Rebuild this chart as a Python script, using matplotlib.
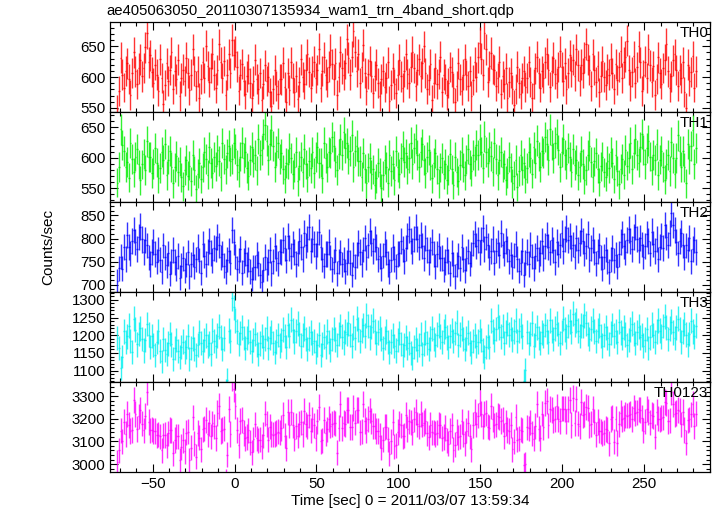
import numpy as np
import matplotlib
matplotlib.use("Agg")
import matplotlib.pyplot as plt
from matplotlib.ticker import MultipleLocator

plt.rcParams['font.family'] = ['Liberation Sans', 'DejaVu Sans']

# 1 s bins, first bin centred at -71.5 s
t_start, t_bin = -71.5, 1.0

th0 = [548, 577, 631, 604, 583, 610, 622, 597, 571, 606, 640, 609, 589, 614, 628, 601, 615, 648, 672, 624,
       635, 608, 591, 620, 604, 577, 629, 598, 556, 587, 622, 593, 611, 640, 581, 610, 597, 628, 569, 598,
       612, 594, 631, 606, 579, 604, 645, 610, 586, 609, 566, 597, 624, 598, 651, 618, 592, 615, 638, 603,
       582, 611, 653, 624, 599, 626, 571, 604, 637, 607, 660, 636, 641, 617, 578, 604, 621, 594, 572, 601,
       613, 590, 566, 593, 628, 597, 581, 606, 562, 589, 619, 594, 600, 575, 553, 580, 611, 586, 572, 597,
       596, 623, 584, 559, 607, 579, 624, 598, 575, 601, 564, 592, 629, 600, 588, 612, 637, 608, 583, 610,
       625, 598, 611, 646, 583, 610, 632, 604, 592, 617, 644, 621, 596, 622, 571, 600, 641, 614, 603, 622,
       661, 631, 604, 633, 674, 641, 609, 637, 591, 616, 652, 607, 578, 605, 626, 601, 574, 602, 620, 590,
       569, 597, 610, 584, 598, 624, 561, 587, 615, 589, 574, 603, 628, 601, 583, 609, 637, 605, 590, 616,
       641, 615, 586, 612, 629, 601, 622, 650, 607, 581, 595, 621, 563, 591, 614, 589, 605, 633, 576, 604,
       597, 571, 590, 616, 608, 582, 559, 585, 622, 596, 578, 604, 629, 603, 586, 610, 569, 595, 624, 600,
       632, 656, 630, 604, 671, 645, 592, 618, 639, 613, 611, 585, 599, 625, 573, 601, 588, 614, 566, 592,
       606, 580, 555, 581, 617, 591, 572, 598, 610, 584, 599, 625, 592, 566, 588, 614, 633, 607, 583, 609,
       598, 624, 638, 612, 584, 610, 631, 605, 590, 616, 642, 616, 594, 622, 580, 606, 635, 609, 628, 602,
       645, 619, 594, 620, 606, 632, 654, 628, 611, 585, 637, 611, 592, 618, 575, 601, 626, 600, 587, 613,
       604, 630, 607, 581, 621, 595, 616, 642, 598, 624, 633, 659, 611, 585, 608, 634, 590, 616, 650, 624,
       577, 603, 625, 599, 645, 619, 592, 618, 571, 597, 632, 606, 589, 615, 628, 654, 609, 583, 601, 627,
       637, 611, 585, 611, 598, 624, 576, 550, 620, 594, 608, 634, 583, 609]

th1 = [559, 585, 647, 621, 611, 585, 593, 567, 624, 598, 576, 602, 615, 589, 563, 589, 606, 580, 627, 601,
       601, 575, 590, 616, 592, 566, 583, 609, 597, 623, 571, 597, 611, 585, 558, 584, 603, 577, 594, 568,
       553, 579, 596, 570, 587, 561, 605, 579, 548, 574, 591, 565, 584, 610, 598, 572, 617, 591, 575, 601,
       586, 612, 595, 569, 624, 598, 581, 607, 620, 594, 598, 624, 614, 588, 576, 602, 625, 599, 609, 583,
       570, 596, 618, 592, 605, 579, 631, 605, 613, 639, 654, 628, 596, 622, 645, 619, 585, 611, 624, 598,
       607, 581, 565, 591, 590, 616, 599, 573, 584, 610, 561, 587, 602, 576, 615, 589, 568, 594, 583, 609,
       575, 601, 617, 591, 592, 566, 625, 599, 584, 610, 608, 634, 619, 593, 580, 606, 630, 604, 642, 616,
       624, 598, 611, 637, 585, 611, 620, 594, 595, 569, 608, 582, 558, 584, 599, 573, 581, 555, 566, 592,
       576, 550, 571, 597, 585, 559, 604, 578, 589, 563, 611, 585, 574, 600, 619, 593, 607, 581, 599, 625,
       590, 616, 631, 605, 584, 610, 622, 596, 575, 601, 613, 587, 566, 592, 607, 581, 558, 584, 599, 573,
       590, 564, 580, 606, 581, 555, 602, 576, 562, 588, 610, 584, 571, 597, 615, 589, 578, 604, 595, 621,
       604, 630, 609, 583, 635, 609, 592, 618, 603, 577, 624, 598, 571, 597, 610, 584, 589, 563, 575, 601,
       584, 558, 570, 596, 552, 578, 605, 579, 591, 565, 583, 609, 600, 574, 617, 591, 628, 602, 585, 611,
       608, 634, 622, 596, 647, 621, 599, 625, 639, 613, 584, 610, 631, 605, 590, 616, 602, 576, 614, 588,
       597, 571, 585, 611, 590, 564, 579, 605, 619, 593, 568, 594, 608, 582, 560, 586, 602, 576, 569, 595,
       583, 609, 591, 565, 604, 578, 556, 582, 598, 572, 613, 587, 599, 625, 581, 607, 631, 605, 592, 618,
       639, 613, 590, 616, 628, 602, 579, 605, 596, 622, 571, 597, 611, 585, 564, 590, 604, 578, 626, 600,
       574, 600, 637, 611, 585, 611, 584, 558, 623, 597, 619, 645, 590, 616]

th2 = [708, 736, 761, 735, 782, 756, 808, 782, 768, 794, 819, 793, 777, 803, 826, 798, 771, 797, 785, 759,
       745, 771, 792, 766, 750, 776, 754, 728, 785, 759, 742, 768, 724, 750, 775, 749, 736, 762, 715, 741,
       757, 731, 744, 770, 718, 744, 765, 739, 755, 781, 752, 726, 789, 763, 745, 771, 795, 769, 753, 779,
       778, 804, 785, 759, 767, 741, 728, 754, 774, 748, 818, 792, 761, 735, 752, 778, 726, 752, 769, 743,
       755, 729, 712, 738, 738, 764, 746, 720, 706, 732, 760, 734, 749, 775, 725, 751, 784, 758, 746, 772,
       771, 797, 779, 753, 805, 779, 762, 788, 771, 745, 768, 794, 782, 756, 811, 785, 799, 825, 774, 800,
       788, 762, 788, 814, 781, 755, 741, 767, 766, 792, 759, 733, 750, 776, 725, 751, 770, 744, 755, 729,
       748, 774, 748, 722, 765, 739, 764, 790, 771, 745, 776, 802, 759, 785, 817, 791, 773, 799, 781, 755,
       762, 736, 763, 789, 771, 745, 728, 754, 782, 756, 740, 766, 768, 794, 777, 751, 779, 805, 820, 794,
       773, 799, 825, 799, 781, 807, 784, 758, 801, 775, 749, 775, 792, 766, 740, 766, 783, 757, 758, 732,
       749, 775, 751, 725, 769, 743, 718, 744, 762, 736, 781, 755, 731, 757, 772, 746, 765, 791, 810, 784,
       796, 770, 796, 822, 778, 804, 785, 759, 773, 799, 748, 774, 790, 764, 811, 785, 768, 794, 777, 751,
       765, 739, 763, 789, 756, 730, 748, 774, 722, 748, 771, 745, 787, 761, 736, 762, 780, 754, 769, 795,
       758, 784, 808, 782, 770, 796, 775, 749, 792, 766, 785, 811, 773, 799, 822, 796, 805, 779, 787, 761,
       801, 775, 790, 816, 794, 768, 783, 809, 754, 780, 797, 771, 746, 772, 785, 759, 735, 761, 776, 750,
       728, 754, 779, 753, 765, 739, 766, 792, 809, 783, 770, 796, 820, 794, 778, 804, 825, 799, 775, 801,
       787, 761, 784, 810, 794, 768, 815, 789, 773, 799, 755, 781, 806, 780, 829, 803, 786, 812, 855, 829,
       818, 792, 768, 794, 811, 785, 759, 785, 776, 802, 751, 777, 797, 771]

th3 = [1193, 1163, 1108, 1140, 1211, 1181, 1197, 1227, 1183, 1153, 1246, 1216, 1174, 1204, 1220, 1190, 1157, 1187, 1232, 1202,
       1168, 1198, 1173, 1143, 1181, 1211, 1156, 1126, 1189, 1159, 1147, 1177, 1204, 1174, 1133, 1163, 1186, 1156, 1138, 1168,
       1182, 1152, 1167, 1197, 1134, 1164, 1191, 1161, 1143, 1173, 1208, 1178, 1156, 1186, 1200, 1170, 1177, 1147, 1213, 1183,
       1169, 1199, 1224, 1194, 1161, 1191, 1045, 1075, 1213, 1183, 1305, 1279, 1241, 1211, 1176, 1206, 1222, 1192, 1163, 1193,
       1211, 1181, 1156, 1186, 1204, 1174, 1147, 1177, 1198, 1168, 1190, 1220, 1163, 1193, 1209, 1179, 1152, 1182, 1201, 1171,
       1186, 1216, 1198, 1168, 1229, 1199, 1244, 1214, 1182, 1212, 1233, 1203, 1171, 1201, 1219, 1189, 1161, 1191, 1208, 1178,
       1183, 1153, 1172, 1202, 1144, 1174, 1196, 1166, 1211, 1181, 1159, 1189, 1218, 1188, 1173, 1203, 1226, 1196, 1180, 1210,
       1204, 1234, 1201, 1171, 1222, 1192, 1247, 1217, 1183, 1213, 1229, 1199, 1256, 1226, 1194, 1224, 1241, 1211, 1178, 1208,
       1219, 1189, 1163, 1193, 1211, 1181, 1152, 1182, 1200, 1170, 1157, 1187, 1206, 1176, 1143, 1173, 1194, 1164, 1179, 1149,
       1137, 1167, 1189, 1159, 1173, 1203, 1146, 1176, 1208, 1178, 1161, 1191, 1219, 1189, 1172, 1202, 1227, 1197, 1181, 1211,
       1224, 1194, 1168, 1198, 1213, 1183, 1206, 1236, 1172, 1202, 1219, 1189, 1161, 1191, 1207, 1177, 1153, 1183, 1200, 1170,
       1182, 1212, 1187, 1157, 1138, 1168, 1196, 1166, 1241, 1211, 1188, 1218, 1253, 1223, 1196, 1226, 1179, 1209, 1232, 1202,
       1218, 1188, 1211, 1241, 1183, 1213, 1227, 1197, 1072, 1102, 1209, 1179, 1204, 1234, 1171, 1201, 1223, 1193, 1178, 1208,
       1199, 1229, 1211, 1181, 1242, 1212, 1190, 1220, 1233, 1203, 1178, 1208, 1247, 1217, 1196, 1226, 1239, 1209, 1261, 1231,
       1243, 1213, 1198, 1228, 1226, 1256, 1234, 1204, 1189, 1219, 1241, 1211, 1183, 1213, 1228, 1198, 1171, 1201, 1222, 1192,
       1176, 1206, 1229, 1199, 1211, 1181, 1238, 1208, 1193, 1223, 1202, 1172, 1186, 1216, 1233, 1203, 1178, 1208, 1224, 1194,
       1201, 1171, 1188, 1218, 1164, 1194, 1230, 1200, 1181, 1211, 1243, 1213, 1196, 1226, 1252, 1222, 1189, 1219, 1238, 1208,
       1193, 1223, 1247, 1217, 1181, 1211, 1232, 1202, 1174, 1204, 1241, 1211, 1197, 1227]

labels = ['TH0', 'TH1', 'TH2', 'TH3', 'TH0123']
colors = ['#ff0000', '#00ee00', '#0000ff', '#00f0f0', '#ff00ff']
ylims = [(543, 689), (527, 675), (684, 879), (1068, 1322), (2965, 3362)]
ymajor = [50, 50, 50, 50, 100]
yminor = [10, 10, 10, 10, 20]

title = 'ae405063050_20110307135934_wam1_trn_4band_short.qdp'
xlabel = 'Time [sec] 0 = 2011/03/07 13:59:34'

n = min(len(th0), len(th1), len(th2), len(th3))
rates = [np.array(a[:n], float) for a in (th0, th1, th2, th3)]
rates.append(rates[0] + rates[1] + rates[2] + rates[3])  # TH0123 = sum of bands
t = t_start + t_bin * np.arange(n)

fig = plt.figure(figsize=(7.17, 5.16), dpi=100)
left, right, top, bottom = 0.1534, 0.990, 0.957, 0.0853
h = (top - bottom) / 5

for i in range(5):
    ax = fig.add_axes([left, top - (i + 1) * h, right - left, h])
    r = rates[i]
    err = np.sqrt(r * t_bin) / t_bin
    ax.errorbar(t, r, xerr=t_bin / 2, yerr=err, fmt='none',
                ecolor=colors[i], elinewidth=1.0, capsize=0, alpha=0.8)
    ax.set_xlim(-76, 290)
    ax.set_ylim(*ylims[i])
    ax.xaxis.set_major_locator(MultipleLocator(50))
    ax.xaxis.set_minor_locator(MultipleLocator(10))
    ax.yaxis.set_major_locator(MultipleLocator(ymajor[i]))
    ax.yaxis.set_minor_locator(MultipleLocator(yminor[i]))
    ax.tick_params(which='both', direction='in', top=True, right=True,
                   labelsize=10.8, width=0.8)
    ax.tick_params(which='major', length=6)
    ax.tick_params(which='minor', length=3)
    if i < 4:
        ax.tick_params(labelbottom=False)
    for s in ax.spines.values():
        s.set_linewidth(0.9)
    ax.text(0.997, 0.96, labels[i], transform=ax.transAxes,
            ha='right', va='top', fontsize=11)
    if i == 4:
        ax.set_xlabel(xlabel, fontsize=11, labelpad=2)

fig.text(left - 0.005, 0.978, title, ha='left', va='center', fontsize=10.7)
fig.text(0.067, (top + bottom) / 2, 'Counts/sec', rotation=90,
         ha='center', va='center', fontsize=11)

fig.savefig('out.png', dpi=100)
